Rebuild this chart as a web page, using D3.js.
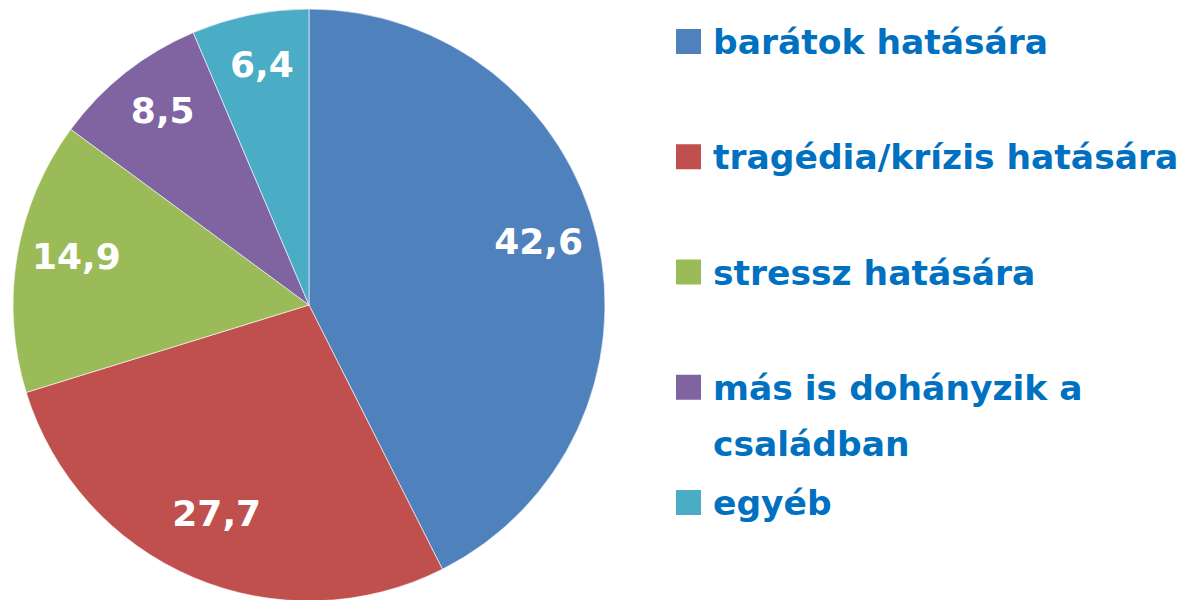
<!DOCTYPE html>
<html>
<head>
<meta charset="utf-8">
<script src="https://cdn.jsdelivr.net/npm/d3@7"></script>
<style>
  body { margin: 0; background: #fff; }
  svg { display: block; }
</style>
</head>
<body>
<div id="chart"></div>
<script>
// data
const categories = [
  "barátok hatására",
  "tragédia/krízis hatására",
  "stressz hatására",
  "más is dohányzik a családban",
  "egyéb",
]
const values = [42.6, 27.7, 14.9, 8.5, 6.4]
const labels = ["42,6", "27,7", "14,9", "8,5", "6,4"]
// legend lines (wrapped as in the original)
const legendLines = [
  ["barátok hatására"],
  ["tragédia/krízis hatására"],
  ["stressz hatására"],
  ["más is dohányzik a", "családban"],
  ["egyéb"],
]
const colors = ["#4F81BD", "#C0504D", "#9BBB59", "#8064A2", "#4BACC6"]

const width = 1189
const height = 600
const cx = 309
const cy = 305
const radius = 296

const svg = d3
  .select("#chart")
  .append("svg")
  .attr("width", width)
  .attr("height", height)

const color = d3.scaleOrdinal().domain(categories).range(colors)

const pie = d3
  .pie()
  .sort(null)
  .value((d, i) => values[i])

const arcs = pie(categories)

const arc = d3.arc().innerRadius(0).outerRadius(radius)
const labelArc = d3.arc().innerRadius(236).outerRadius(236)

const g = svg.append("g").attr("transform", `translate(${cx},${cy})`)

g.selectAll("path")
  .data(arcs)
  .join("path")
  .attr("d", arc)
  .attr("fill", (d) => color(d.data))
  .attr("stroke", "#ffffff")
  .attr("stroke-width", 0.6)

// labels, a bit higher than centroid like the original
g.selectAll("text")
  .data(arcs)
  .join("text")
  .attr("transform", (d) => `translate(${labelArc.centroid(d)})`)
  .attr("text-anchor", "middle")
  .attr("dy", "0.1em")
  .style("font-family", "DejaVu Sans")
  .style("font-weight", "bold")
  .style("font-size", "36px")
  .style("fill", "#ffffff")
  .text((d, i) => labels[i])

// LEGEND
const legendY = d3.scaleLinear().domain([0, 4]).range([29, 490])

const legend = svg
  .append("g")
  .selectAll("g")
  .data(categories)
  .join("g")
  .attr("transform", (d, i) => `translate(676,${legendY(i)})`)

legend
  .append("rect")
  .attr("width", 25)
  .attr("height", 25)
  .attr("fill", (d) => color(d))

legend
  .append("text")
  .attr("x", 37)
  .attr("y", 25)
  .style("font-family", "DejaVu Sans")
  .style("font-weight", "bold")
  .style("font-size", "34.5px")
  .style("fill", "#0070C0")
  .selectAll("tspan")
  .data((d, i) => legendLines[i])
  .join("tspan")
  .attr("x", 37)
  .attr("dy", (d, j) => (j === 0 ? 0 : 56))
  .text((d) => d)
</script>
</body>
</html>
